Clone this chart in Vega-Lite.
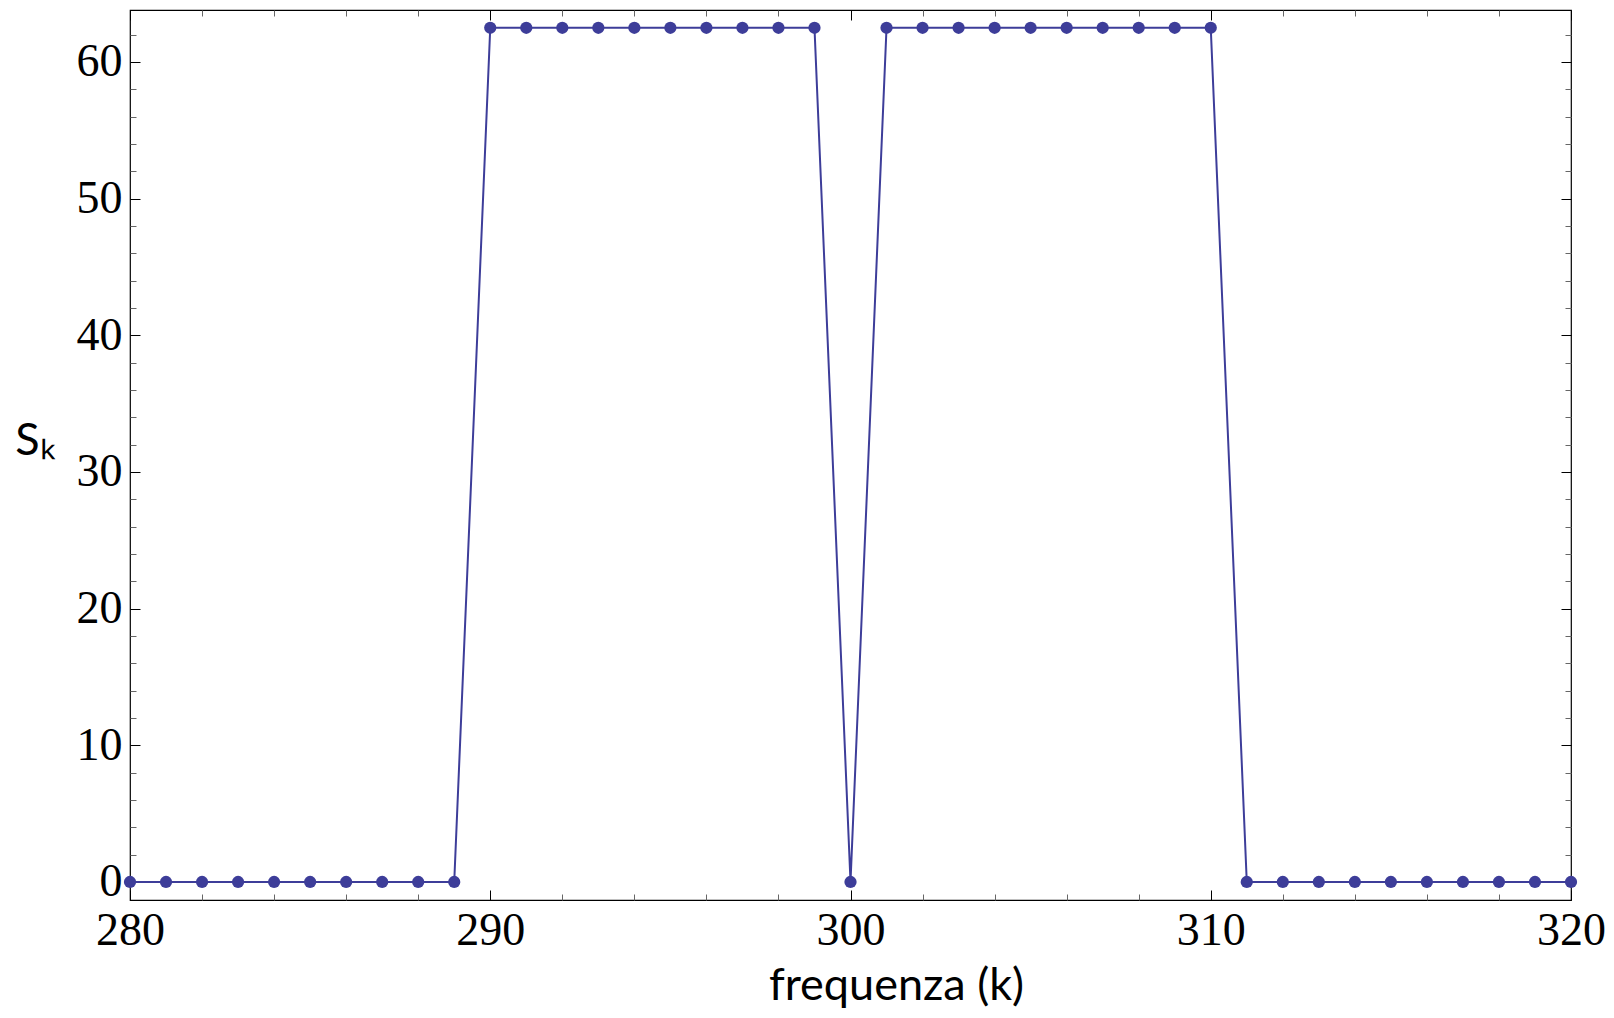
{
  "$schema": "https://vega.github.io/schema/vega-lite/v6.json",
  "width": 1441,
  "height": 890,
  "autosize": "none",
  "padding": {"left": 130, "top": 10, "right": 43, "bottom": 118},
  "background": "white",
  "config": {"view": {"stroke": "#000000", "strokeWidth": 1.2}},
  "data": {"values": [
    {"k": 280, "s": 0}, {"k": 281, "s": 0}, {"k": 282, "s": 0}, {"k": 283, "s": 0}, {"k": 284, "s": 0},
    {"k": 285, "s": 0}, {"k": 286, "s": 0}, {"k": 287, "s": 0}, {"k": 288, "s": 0}, {"k": 289, "s": 0},
    {"k": 290, "s": 62.5}, {"k": 291, "s": 62.5}, {"k": 292, "s": 62.5}, {"k": 293, "s": 62.5}, {"k": 294, "s": 62.5},
    {"k": 295, "s": 62.5}, {"k": 296, "s": 62.5}, {"k": 297, "s": 62.5}, {"k": 298, "s": 62.5}, {"k": 299, "s": 62.5},
    {"k": 300, "s": 0},
    {"k": 301, "s": 62.5}, {"k": 302, "s": 62.5}, {"k": 303, "s": 62.5}, {"k": 304, "s": 62.5}, {"k": 305, "s": 62.5},
    {"k": 306, "s": 62.5}, {"k": 307, "s": 62.5}, {"k": 308, "s": 62.5}, {"k": 309, "s": 62.5}, {"k": 310, "s": 62.5},
    {"k": 311, "s": 0}, {"k": 312, "s": 0}, {"k": 313, "s": 0}, {"k": 314, "s": 0}, {"k": 315, "s": 0},
    {"k": 316, "s": 0}, {"k": 317, "s": 0}, {"k": 318, "s": 0}, {"k": 319, "s": 0}, {"k": 320, "s": 0}
  ]},
  "resolve": {"axis": {"x": "independent", "y": "independent"}},
  "layer": [
    {
      "mark": {"type": "line", "color": "#3d3d99", "strokeWidth": 2, "clip": false},
      "encoding": {
        "x": {"field": "k", "type": "quantitative",
          "scale": {"domain": [280, 320], "nice": false, "zero": false},
          "axis": {"orient": "bottom", "values": [280,282,284,286,288,290,292,294,296,298,300,302,304,306,308,310,312,314,316,318,320],
            "labelExpr": "datum.value % 10 === 0 ? datum.label : ''", "labelOverlap": false, "labelFlush": false,
            "domain": false, "grid": false,
            "tickSize": {"condition": {"test": "datum.value % 10 === 0", "value": -10}, "value": -6},
            "tickColor": {"condition": {"test": "datum.value % 10 === 0", "value": "#000000"}, "value": "#666666"},
            "tickWidth": 1,
            "labelFont": "Liberation Serif", "labelFontSize": 46, "labelColor": "#000000",
            "labelPadding": 18, "labelBaseline": "top",
            "title": "frequenza (k)", "titleFont": "Lato", "titleFontSize": 45, "titleFontWeight": "normal",
            "titleColor": "#000000", "titleX": 766, "titleY": 99, "titleAlign": "center", "titleBaseline": "alphabetic"}},
        "y": {"field": "s", "type": "quantitative",
          "scale": {"domain": [-1.32, 63.8], "nice": false, "zero": false},
          "axis": {"orient": "left", "values": [0,2,4,6,8,10,12,14,16,18,20,22,24,26,28,30,32,34,36,38,40,42,44,46,48,50,52,54,56,58,60,62],
            "labelExpr": "datum.value % 10 === 0 ? datum.label : ''", "labelOverlap": false, "labelFlush": false,
            "domain": false, "grid": false,
            "tickSize": {"condition": {"test": "datum.value % 10 === 0", "value": -10}, "value": -6},
            "tickColor": {"condition": {"test": "datum.value % 10 === 0", "value": "#000000"}, "value": "#666666"},
            "tickWidth": 1,
            "labelFont": "Liberation Serif", "labelFontSize": 46, "labelColor": "#000000",
            "labelPadding": 18,
            "title": "Sₖ", "titleFont": "Lato", "titleFontSize": 45, "titleFontWeight": "normal",
            "titleColor": "#000000", "titleAngle": 0, "titleX": -95, "titleY": 430,
            "titleAlign": "center", "titleBaseline": "middle"}}
      }
    },
    {
      "mark": {"type": "point", "filled": true, "opacity": 1, "color": "#3d3d99", "size": 150, "clip": false},
      "encoding": {
        "x": {"field": "k", "type": "quantitative",
          "axis": {"orient": "top", "values": [280,282,284,286,288,290,292,294,296,298,300,302,304,306,308,310,312,314,316,318,320],
            "labels": false, "domain": false, "grid": false, "title": null,
            "tickSize": {"condition": {"test": "datum.value % 10 === 0", "value": -10}, "value": -6},
            "tickColor": {"condition": {"test": "datum.value % 10 === 0", "value": "#000000"}, "value": "#666666"},
            "tickWidth": 1}},
        "y": {"field": "s", "type": "quantitative",
          "axis": {"orient": "right", "values": [0,2,4,6,8,10,12,14,16,18,20,22,24,26,28,30,32,34,36,38,40,42,44,46,48,50,52,54,56,58,60,62],
            "labels": false, "domain": false, "grid": false, "title": null,
            "tickSize": {"condition": {"test": "datum.value % 10 === 0", "value": -10}, "value": -6},
            "tickColor": {"condition": {"test": "datum.value % 10 === 0", "value": "#000000"}, "value": "#666666"},
            "tickWidth": 1}}
      }
    }
  ]
}
